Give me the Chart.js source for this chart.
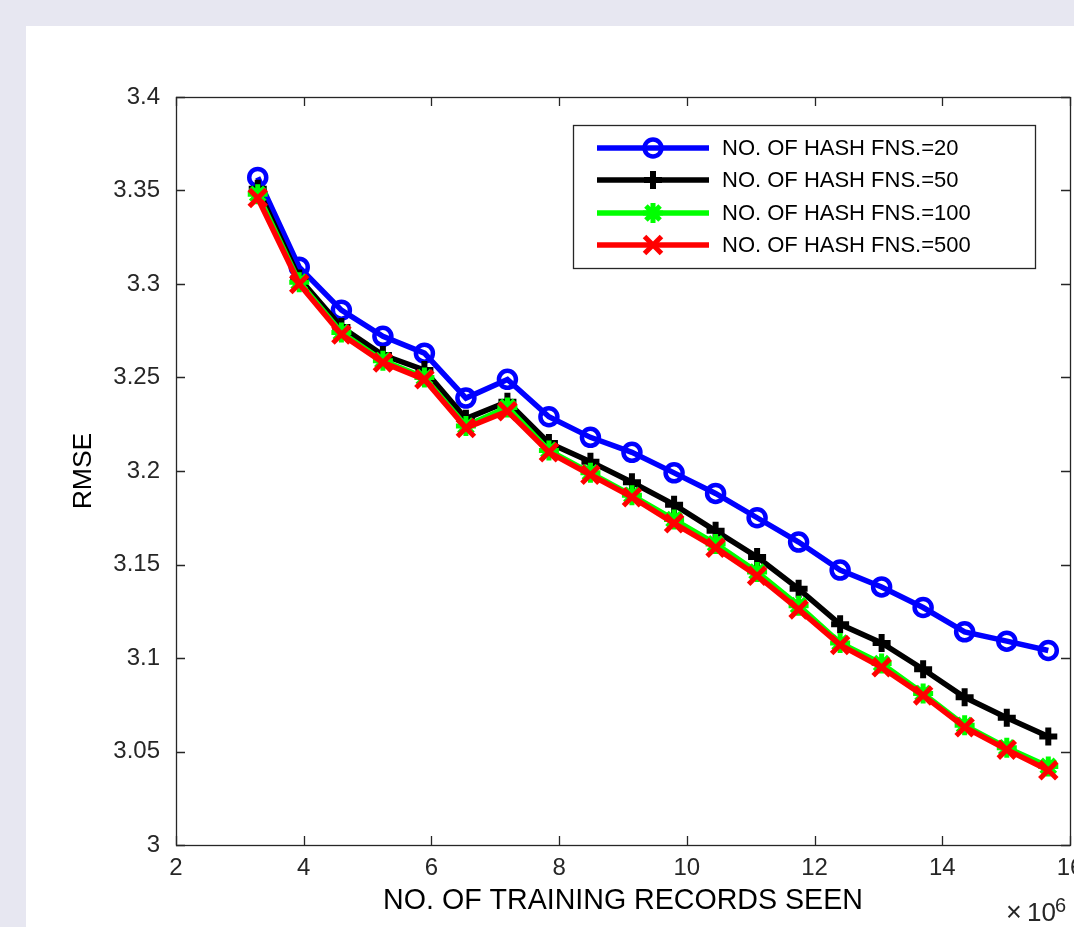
<!DOCTYPE html>
<html>
<head>
<meta charset="utf-8">
<title>RMSE vs training records</title>
<script src="https://cdn.jsdelivr.net/npm/chart.js@4/dist/chart.umd.min.js"></script>
<style>
    html, body {
        margin: 0;
        padding: 0;
        overflow: hidden;
        background: #e7e7f1;
        width: 1074px;
        height: 927px;
    }
    #panel {
        position: absolute;
        left: 26px;
        top: 26px;
        width: 1100px;
        height: 950px;
        background: #ffffff;
    }
    #rmse-chart {
        position: absolute;
        left: 0;
        top: 0;
    }
</style>
</head>
<body>
<div id="panel"></div>
<canvas id="rmse-chart" width="1120" height="927"></canvas>
<script>
// Training records seen (x 10^6)
const recordsSeen = [3.28, 3.93, 4.59, 5.24, 5.89, 6.54, 7.19, 7.84, 8.49, 9.14,
    9.80, 10.45, 11.10, 11.75, 12.40, 13.05, 13.70, 14.35, 15.01, 15.66];

// RMSE per number of hash functions
const rmseHash20 = [3.357, 3.309, 3.286, 3.272, 3.263, 3.239, 3.249, 3.229, 3.218, 3.210,
    3.199, 3.188, 3.175, 3.162, 3.147, 3.138, 3.127, 3.114, 3.109, 3.104];
const rmseHash50 = [3.351, 3.303, 3.277, 3.262, 3.254, 3.228, 3.237, 3.215, 3.205, 3.194,
    3.182, 3.168, 3.154, 3.137, 3.118, 3.108, 3.094, 3.079, 3.068, 3.058];
const rmseHash100 = [3.348, 3.301, 3.274, 3.259, 3.250, 3.224, 3.234, 3.211, 3.199, 3.187,
    3.174, 3.161, 3.146, 3.128, 3.108, 3.097, 3.081, 3.064, 3.052, 3.042];
const rmseHash500 = [3.346, 3.300, 3.273, 3.258, 3.249, 3.223, 3.232, 3.210, 3.198, 3.186,
    3.172, 3.159, 3.144, 3.126, 3.107, 3.095, 3.080, 3.063, 3.051, 3.040];

const seriesLabels = ['NO. OF HASH FNS.=20', 'NO. OF HASH FNS.=50', 'NO. OF HASH FNS.=100', 'NO. OF HASH FNS.=500'];

// Tick labels
const xTicks = [2, 4, 6, 8, 10, 12, 14, 16];
const yTicks = [3, 3.05, 3.1, 3.15, 3.2, 3.25, 3.3, 3.35, 3.4];

const FONT = "'Liberation Sans', Arial, Helvetica, sans-serif";
const AXIS_COLOR = '#262626';

function toPoints(values) {
    return values.map((v, i) => ({ x: recordsSeen[i], y: v }));
}

function lineDataset(label, values, color, style, radius, markerWidth, order) {
    return {
        label: label,
        data: toPoints(values),
        borderColor: color,
        backgroundColor: color,
        borderWidth: 5.5,
        tension: 0,
        pointStyle: style,
        pointRadius: radius,
        pointHoverRadius: radius,
        pointBorderColor: color,
        pointBackgroundColor: style === 'circle' ? 'rgba(0,0,0,0)' : color,
        pointBorderWidth: markerWidth,
        order: order
    };
}

// Box around the plot with inward tick marks on all sides
const boxTicks = {
    id: 'boxTicks',
    beforeDatasetsDraw(chart) {
        const { ctx, chartArea: a, scales } = chart;
        const len = 9;
        ctx.save();
        ctx.strokeStyle = AXIS_COLOR;
        ctx.lineWidth = 1.3;
        ctx.beginPath();
        xTicks.forEach(t => {
            const px = Math.round(scales.x.getPixelForValue(t)) + 0.5;
            ctx.moveTo(px, a.bottom); ctx.lineTo(px, a.bottom - len);
            ctx.moveTo(px, a.top); ctx.lineTo(px, a.top + len);
        });
        yTicks.forEach(t => {
            const py = Math.round(scales.y.getPixelForValue(t)) + 0.5;
            ctx.moveTo(a.left, py); ctx.lineTo(a.left + len, py);
            ctx.moveTo(a.right, py); ctx.lineTo(a.right - len, py);
        });
        ctx.stroke();
        ctx.strokeRect(Math.round(a.left) + 0.5, Math.round(a.top) + 0.5,
            Math.round(a.right - a.left), Math.round(a.bottom - a.top));
        ctx.restore();
    }
};

// Boxed legend with line + marker samples, and the x10^6 exponent label
const boxLegend = {
    id: 'boxLegend',
    afterDraw(chart) {
        const { ctx } = chart;
        const boxX = 573, boxY = 125, boxW = 462, boxH = 143;
        const rowY = [148, 180, 213, 245];
        ctx.save();
        ctx.fillStyle = '#ffffff';
        ctx.fillRect(boxX, boxY, boxW, boxH);
        ctx.strokeStyle = AXIS_COLOR;
        ctx.lineWidth = 1.3;
        ctx.strokeRect(boxX + 0.5, boxY + 0.5, boxW, boxH);

        chart.data.datasets.forEach((ds, row) => {
            const y = rowY[row];
            ctx.strokeStyle = ds.borderColor;
            ctx.lineWidth = ds.borderWidth;
            ctx.beginPath();
            ctx.moveTo(597, y);
            ctx.lineTo(709, y);
            ctx.stroke();

            ctx.fillStyle = ds.pointBackgroundColor;
            ctx.strokeStyle = ds.pointBorderColor;
            ctx.lineWidth = ds.pointBorderWidth;
            Chart.helpers.drawPoint(ctx, {
                pointStyle: ds.pointStyle,
                radius: ds.pointRadius,
                rotation: 0,
                borderWidth: ds.pointBorderWidth
            }, 653, y);

            ctx.fillStyle = '#000000';
            ctx.font = '22px ' + FONT;
            ctx.textAlign = 'left';
            ctx.textBaseline = 'middle';
            ctx.fillText(ds.label, 722, y + 1);
        });

        // exponent under the right end of the x axis
        ctx.fillStyle = AXIS_COLOR;
        ctx.textAlign = 'left';
        ctx.textBaseline = 'alphabetic';
        ctx.font = '27px ' + FONT;
        ctx.fillText('\u00d7', 1006, 921);
        ctx.font = '26px ' + FONT;
        ctx.fillText('10', 1027, 921);
        ctx.font = '20px ' + FONT;
        ctx.fillText('6', 1055, 912);
        ctx.restore();
    }
};

function initChart() {
    const ctx = document.getElementById('rmse-chart').getContext('2d');

    new Chart(ctx, {
        type: 'line',
        data: {
            datasets: [
                lineDataset(seriesLabels[0], rmseHash20, '#0000ff', 'circle', 8.5, 4.5, 3),
                lineDataset(seriesLabels[1], rmseHash50, '#000000', 'cross', 9, 6, 2),
                lineDataset(seriesLabels[2], rmseHash100, '#00ff00', 'star', 10, 5, 1),
                lineDataset(seriesLabels[3], rmseHash500, '#ff0000', 'crossRot', 12, 5, 0)
            ]
        },
        options: {
            responsive: false,
            animation: false,
            events: [],
            layout: {
                padding: { left: 0, top: 97, right: 50, bottom: 0 }
            },
            plugins: {
                legend: { display: false },
                tooltip: { enabled: false }
            },
            scales: {
                x: {
                    type: 'linear',
                    min: 2,
                    max: 16,
                    afterFit(scale) { scale.height = 82; },
                    afterBuildTicks(scale) { scale.ticks = xTicks.map(v => ({ value: v })); },
                    grid: { display: false, drawTicks: false },
                    border: { display: false },
                    ticks: {
                        color: AXIS_COLOR,
                        font: { family: FONT, size: 24 },
                        padding: 9,
                        maxRotation: 0,
                        autoSkip: false,
                        callback: v => String(v)
                    },
                    title: {
                        display: true,
                        text: 'NO. OF TRAINING RECORDS SEEN',
                        color: '#000000',
                        font: { family: FONT, size: 28.6 },
                        padding: { top: 0, bottom: 9 }
                    }
                },
                y: {
                    type: 'linear',
                    min: 3,
                    max: 3.4,
                    afterFit(scale) { scale.width = 176; },
                    afterBuildTicks(scale) { scale.ticks = yTicks.map(v => ({ value: v })); },
                    grid: { display: false, drawTicks: false },
                    border: { display: false },
                    ticks: {
                        color: AXIS_COLOR,
                        font: { family: FONT, size: 24 },
                        padding: 16,
                        autoSkip: false,
                        callback: v => String(+v.toFixed(2))
                    },
                    title: {
                        display: true,
                        text: 'RMSE',
                        color: '#000000',
                        font: { family: FONT, size: 26.5 },
                        padding: { top: 68, bottom: 0 }
                    }
                }
            }
        },
        plugins: [boxTicks, boxLegend]
    });
}

initChart();
</script>
</body>
</html>
